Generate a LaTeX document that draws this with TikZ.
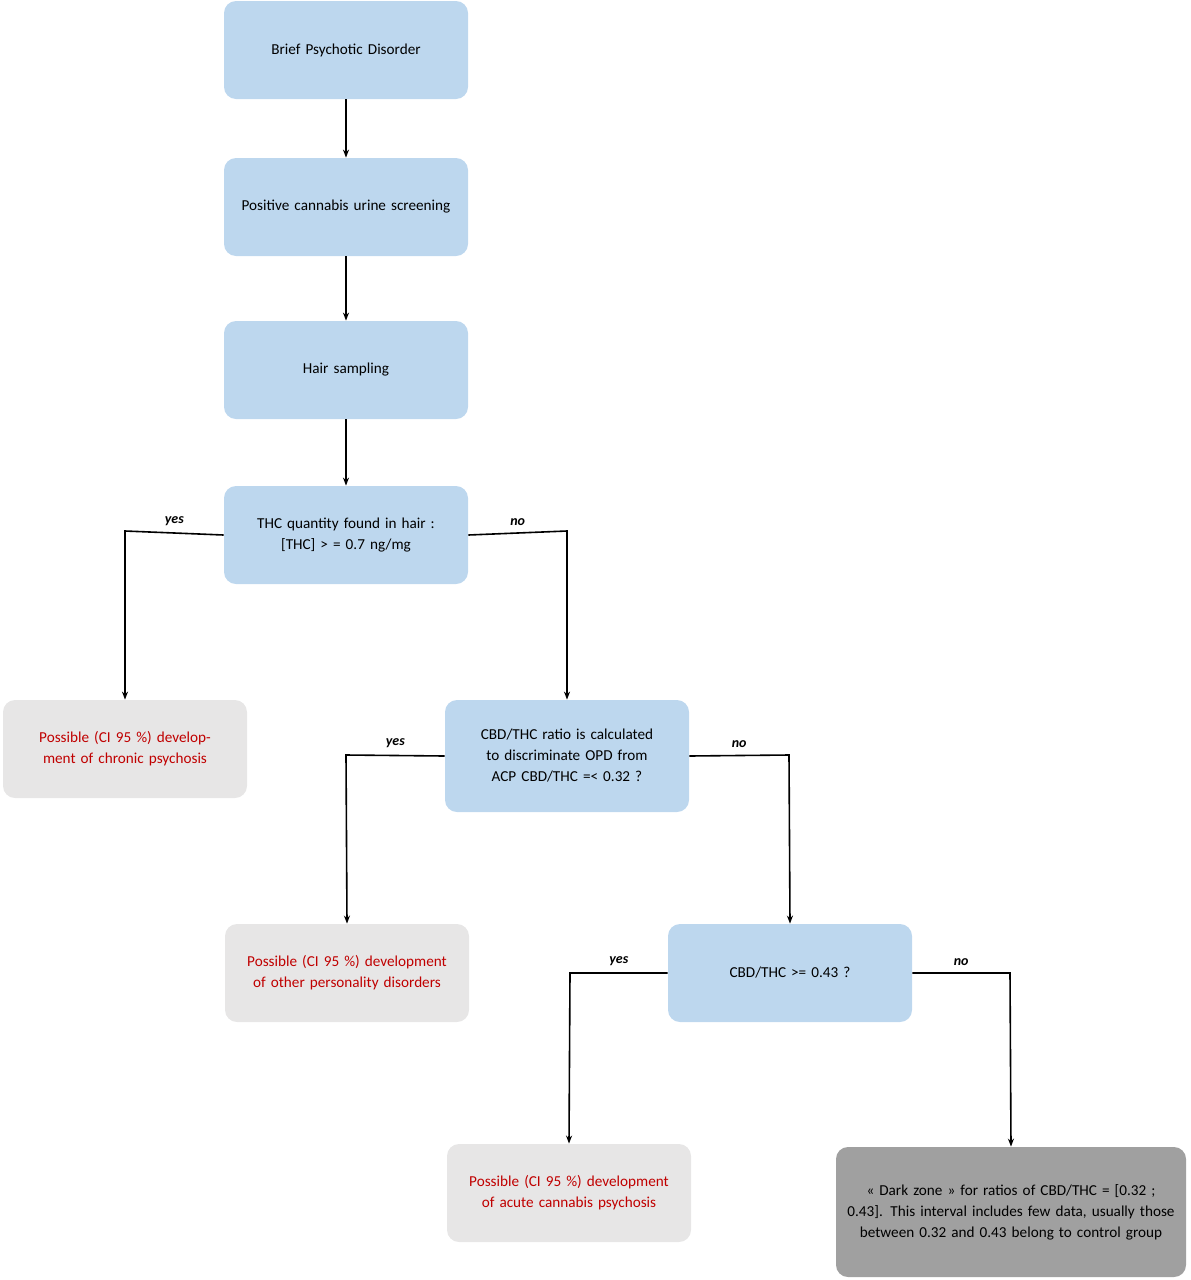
\documentclass[tikz,border=0pt]{standalone}
\usepackage{fontspec}
\setmainfont{Carlito}
\usetikzlibrary{arrows.meta}
\definecolor{bfill}{HTML}{BDD7EE}
\definecolor{gfill}{HTML}{E7E6E6}
\definecolor{dfill}{HTML}{A0A0A0}
\definecolor{rtext}{HTML}{C00000}
\begin{document}
\begin{tikzpicture}[x=0.5pt,y=-0.5pt,
 box/.style={draw=none,rounded corners=6pt,minimum width=122pt,minimum height=49pt,text width=112pt,align=center,font=\fontsize{7.6}{10.5}\selectfont,inner sep=2pt},
 blue/.style={box,fill=bfill},
 grey/.style={box,fill=gfill,text=rtext},
 dark/.style={box,fill=dfill,minimum width=175pt,minimum height=65pt,text width=165pt},
 arr/.style={-{Stealth[length=4pt,width=3pt]},line width=0.8pt},
 lab/.style={font=\fontsize{7}{8}\selectfont\bfseries\itshape,above}]
\useasboundingbox (0,0) rectangle (1190,1280);
\node[blue] (a) at (346,50) {Brief Psychotic Disorder};
\node[blue] (b) at (346,207) {Positive cannabis urine screening};
\node[blue] (c) at (346,370) {Hair sampling};
\node[blue] (d) at (346,535) {THC quantity found in hair :\\ {[THC]} > = 0.7 ng/mg};
\node[grey] (e) at (125,749) {Possible (CI 95 \%) development of chronic psychosis};
\node[blue,minimum height=56pt] (f) at (567,756) {CBD/THC ratio is calculated to discriminate OPD from ACP CBD/THC =< 0.32 ?};
\node[grey] (g) at (347,973) {Possible (CI 95 \%) development of other personality disorders};
\node[blue] (h) at (790,973) {CBD/THC >= 0.43 ?};
\node[grey] (i) at (569,1193) {Possible (CI 95 \%) development of acute cannabis psychosis};
\node[dark] (j) at (1011,1212) {« Dark zone » for ratios of CBD/THC = [0.32 ; 0.43]. This interval includes few data, usually those between 0.32 and 0.43 belong to control group};
\draw[arr] (a) -- (b);
\draw[arr] (b) -- (c);
\draw[arr] (c) -- (d);
\draw[arr] (d.west) -- node[lab,pos=0.5]{yes} (125,531) -- (e.north);
\draw[arr] (d.east) -- node[lab]{no} (567,531) -- (f.north);
\draw[arr] (f.west) -- node[lab]{yes} (346,755) -- (g.north);
\draw[arr] (f.east) -- node[lab]{no} (789,755) -- (h.north);
\draw[arr] (h.west) -- node[lab]{yes} (570,973) -- (i.north);
\draw[arr] (h.east) -- node[lab]{no} (1010,973) -- (j.north);
\end{tikzpicture}
\end{document}
